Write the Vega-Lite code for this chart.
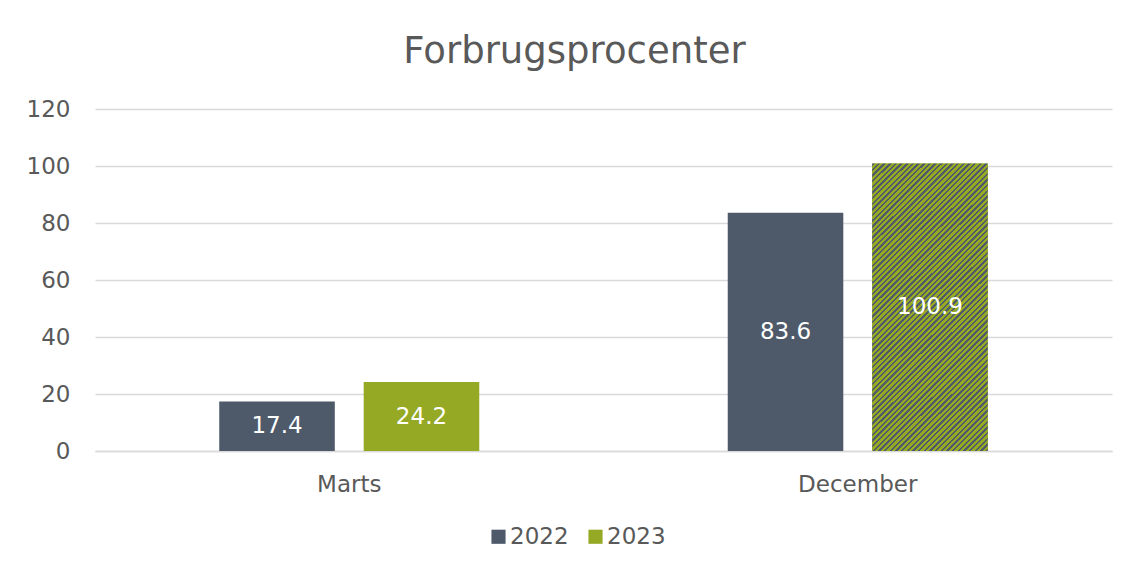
{
  "$schema": "https://vega.github.io/schema/vega-lite/v6.json",
  "autosize": {"type": "none"},
  "padding": {"left": 95, "top": 109, "right": 18, "bottom": 116},
  "width": 1017,
  "height": 342,
  "background": "white",
  "config": {
    "font": "DejaVu Sans",
    "view": {"stroke": null},
    "axis": {"labelColor": "#595959", "labelFont": "DejaVu Sans", "labelFontSize": 23, "ticks": false, "title": null}
  },
  "title": {"text": "Forbrugsprocenter", "fontSize": 37, "fontWeight": "normal", "color": "#595959", "font": "DejaVu Sans", "anchor": "middle", "dx": -29, "offset": 27},
  "data": {
    "values": [
      {"month": "Marts", "year": "2022", "value": 17.4},
      {"month": "Marts", "year": "2023", "value": 24.2},
      {"month": "December", "year": "2022", "value": 83.6},
      {"month": "December", "year": "2023", "value": 100.9}
    ]
  },
  "encoding": {
    "x": {"field": "month", "type": "nominal", "sort": ["Marts", "December"], "scale": {"paddingInner": 0, "paddingOuter": 0},
      "axis": {"labelAngle": 0, "domain": true, "domainColor": "#d9d9d9", "domainWidth": 1.5, "labelPadding": 22, "labelFontSize": 23}},
    "xOffset": {"field": "year", "type": "nominal", "sort": ["2022", "2023"], "scale": {"paddingInner": 0.2, "paddingOuter": 0.86}}
  },
  "layer": [
    {
      "mark": {"type": "bar"},
      "encoding": {
        "y": {"field": "value", "type": "quantitative", "scale": {"domain": [0, 120]},
          "axis": {"values": [0, 20, 40, 60, 80, 100, 120], "domain": false, "gridColor": "#d9d9d9", "gridWidth": 1.5, "labelPadding": 25}},
        "color": {"field": "year", "type": "nominal", "scale": {"domain": ["2022", "2023"], "range": ["#4E5A69", "#95A925"]},
          "legend": {"title": null, "orient": "none", "legendX": 392, "legendY": 416, "direction": "horizontal", "symbolType": "square", "symbolSize": 200, "symbolStrokeWidth": 0, "labelFontSize": 23, "labelColor": "#595959", "labelOffset": 0, "columnPadding": 15, "symbolOpacity": 1}}
      }
    },
    {
      "transform": [{"filter": "datum.month == 'December' && datum.year == '2023'"}],
      "mark": {"type": "bar", "fill": {"gradient": "linear", "x1": 0, "y1": 0, "x2": 0.4828, "y2": 1.2069, "stops": [
        {"offset":0,"color":"#4E5A69"},{"offset":0.006,"color":"#4E5A69"},{"offset":0.006,"color":"#95A925"},{"offset":0.014,"color":"#95A925"},
        {"offset":0.014,"color":"#4E5A69"},{"offset":0.020,"color":"#4E5A69"},{"offset":0.020,"color":"#95A925"},{"offset":0.028,"color":"#95A925"},
        {"offset":0.028,"color":"#4E5A69"},{"offset":0.034,"color":"#4E5A69"},{"offset":0.034,"color":"#95A925"},{"offset":0.042,"color":"#95A925"},
        {"offset":0.042,"color":"#4E5A69"},{"offset":0.048,"color":"#4E5A69"},{"offset":0.048,"color":"#95A925"},{"offset":0.056,"color":"#95A925"},
        {"offset":0.056,"color":"#4E5A69"},{"offset":0.062,"color":"#4E5A69"},{"offset":0.062,"color":"#95A925"},{"offset":0.070,"color":"#95A925"},
        {"offset":0.070,"color":"#4E5A69"},{"offset":0.076,"color":"#4E5A69"},{"offset":0.076,"color":"#95A925"},{"offset":0.084,"color":"#95A925"},
        {"offset":0.084,"color":"#4E5A69"},{"offset":0.090,"color":"#4E5A69"},{"offset":0.090,"color":"#95A925"},{"offset":0.098,"color":"#95A925"},
        {"offset":0.098,"color":"#4E5A69"},{"offset":0.104,"color":"#4E5A69"},{"offset":0.104,"color":"#95A925"},{"offset":0.112,"color":"#95A925"},
        {"offset":0.112,"color":"#4E5A69"},{"offset":0.118,"color":"#4E5A69"},{"offset":0.118,"color":"#95A925"},{"offset":0.126,"color":"#95A925"},
        {"offset":0.126,"color":"#4E5A69"},{"offset":0.132,"color":"#4E5A69"},{"offset":0.132,"color":"#95A925"},{"offset":0.140,"color":"#95A925"},
        {"offset":0.140,"color":"#4E5A69"},{"offset":0.146,"color":"#4E5A69"},{"offset":0.146,"color":"#95A925"},{"offset":0.154,"color":"#95A925"},
        {"offset":0.154,"color":"#4E5A69"},{"offset":0.160,"color":"#4E5A69"},{"offset":0.160,"color":"#95A925"},{"offset":0.168,"color":"#95A925"},
        {"offset":0.168,"color":"#4E5A69"},{"offset":0.174,"color":"#4E5A69"},{"offset":0.174,"color":"#95A925"},{"offset":0.182,"color":"#95A925"},
        {"offset":0.182,"color":"#4E5A69"},{"offset":0.188,"color":"#4E5A69"},{"offset":0.188,"color":"#95A925"},{"offset":0.196,"color":"#95A925"},
        {"offset":0.196,"color":"#4E5A69"},{"offset":0.202,"color":"#4E5A69"},{"offset":0.202,"color":"#95A925"},{"offset":0.210,"color":"#95A925"},
        {"offset":0.210,"color":"#4E5A69"},{"offset":0.216,"color":"#4E5A69"},{"offset":0.216,"color":"#95A925"},{"offset":0.224,"color":"#95A925"},
        {"offset":0.224,"color":"#4E5A69"},{"offset":0.230,"color":"#4E5A69"},{"offset":0.230,"color":"#95A925"},{"offset":0.238,"color":"#95A925"},
        {"offset":0.238,"color":"#4E5A69"},{"offset":0.244,"color":"#4E5A69"},{"offset":0.244,"color":"#95A925"},{"offset":0.252,"color":"#95A925"},
        {"offset":0.252,"color":"#4E5A69"},{"offset":0.258,"color":"#4E5A69"},{"offset":0.258,"color":"#95A925"},{"offset":0.266,"color":"#95A925"},
        {"offset":0.266,"color":"#4E5A69"},{"offset":0.272,"color":"#4E5A69"},{"offset":0.272,"color":"#95A925"},{"offset":0.280,"color":"#95A925"},
        {"offset":0.280,"color":"#4E5A69"},{"offset":0.286,"color":"#4E5A69"},{"offset":0.286,"color":"#95A925"},{"offset":0.294,"color":"#95A925"},
        {"offset":0.294,"color":"#4E5A69"},{"offset":0.300,"color":"#4E5A69"},{"offset":0.300,"color":"#95A925"},{"offset":0.308,"color":"#95A925"},
        {"offset":0.308,"color":"#4E5A69"},{"offset":0.314,"color":"#4E5A69"},{"offset":0.314,"color":"#95A925"},{"offset":0.322,"color":"#95A925"},
        {"offset":0.322,"color":"#4E5A69"},{"offset":0.328,"color":"#4E5A69"},{"offset":0.328,"color":"#95A925"},{"offset":0.336,"color":"#95A925"},
        {"offset":0.336,"color":"#4E5A69"},{"offset":0.342,"color":"#4E5A69"},{"offset":0.342,"color":"#95A925"},{"offset":0.350,"color":"#95A925"},
        {"offset":0.350,"color":"#4E5A69"},{"offset":0.356,"color":"#4E5A69"},{"offset":0.356,"color":"#95A925"},{"offset":0.364,"color":"#95A925"},
        {"offset":0.364,"color":"#4E5A69"},{"offset":0.370,"color":"#4E5A69"},{"offset":0.370,"color":"#95A925"},{"offset":0.378,"color":"#95A925"},
        {"offset":0.378,"color":"#4E5A69"},{"offset":0.384,"color":"#4E5A69"},{"offset":0.384,"color":"#95A925"},{"offset":0.392,"color":"#95A925"},
        {"offset":0.392,"color":"#4E5A69"},{"offset":0.398,"color":"#4E5A69"},{"offset":0.398,"color":"#95A925"},{"offset":0.406,"color":"#95A925"},
        {"offset":0.406,"color":"#4E5A69"},{"offset":0.412,"color":"#4E5A69"},{"offset":0.412,"color":"#95A925"},{"offset":0.420,"color":"#95A925"},
        {"offset":0.420,"color":"#4E5A69"},{"offset":0.426,"color":"#4E5A69"},{"offset":0.426,"color":"#95A925"},{"offset":0.434,"color":"#95A925"},
        {"offset":0.434,"color":"#4E5A69"},{"offset":0.440,"color":"#4E5A69"},{"offset":0.440,"color":"#95A925"},{"offset":0.448,"color":"#95A925"},
        {"offset":0.448,"color":"#4E5A69"},{"offset":0.454,"color":"#4E5A69"},{"offset":0.454,"color":"#95A925"},{"offset":0.462,"color":"#95A925"},
        {"offset":0.462,"color":"#4E5A69"},{"offset":0.468,"color":"#4E5A69"},{"offset":0.468,"color":"#95A925"},{"offset":0.476,"color":"#95A925"},
        {"offset":0.476,"color":"#4E5A69"},{"offset":0.482,"color":"#4E5A69"},{"offset":0.482,"color":"#95A925"},{"offset":0.490,"color":"#95A925"},
        {"offset":0.490,"color":"#4E5A69"},{"offset":0.496,"color":"#4E5A69"},{"offset":0.496,"color":"#95A925"},{"offset":0.504,"color":"#95A925"},
        {"offset":0.504,"color":"#4E5A69"},{"offset":0.510,"color":"#4E5A69"},{"offset":0.510,"color":"#95A925"},{"offset":0.518,"color":"#95A925"},
        {"offset":0.518,"color":"#4E5A69"},{"offset":0.524,"color":"#4E5A69"},{"offset":0.524,"color":"#95A925"},{"offset":0.532,"color":"#95A925"},
        {"offset":0.532,"color":"#4E5A69"},{"offset":0.538,"color":"#4E5A69"},{"offset":0.538,"color":"#95A925"},{"offset":0.546,"color":"#95A925"},
        {"offset":0.546,"color":"#4E5A69"},{"offset":0.552,"color":"#4E5A69"},{"offset":0.552,"color":"#95A925"},{"offset":0.560,"color":"#95A925"},
        {"offset":0.560,"color":"#4E5A69"},{"offset":0.566,"color":"#4E5A69"},{"offset":0.566,"color":"#95A925"},{"offset":0.574,"color":"#95A925"},
        {"offset":0.574,"color":"#4E5A69"},{"offset":0.580,"color":"#4E5A69"},{"offset":0.580,"color":"#95A925"},{"offset":0.588,"color":"#95A925"},
        {"offset":0.588,"color":"#4E5A69"},{"offset":0.594,"color":"#4E5A69"},{"offset":0.594,"color":"#95A925"},{"offset":0.602,"color":"#95A925"},
        {"offset":0.602,"color":"#4E5A69"},{"offset":0.608,"color":"#4E5A69"},{"offset":0.608,"color":"#95A925"},{"offset":0.616,"color":"#95A925"},
        {"offset":0.616,"color":"#4E5A69"},{"offset":0.622,"color":"#4E5A69"},{"offset":0.622,"color":"#95A925"},{"offset":0.630,"color":"#95A925"},
        {"offset":0.630,"color":"#4E5A69"},{"offset":0.636,"color":"#4E5A69"},{"offset":0.636,"color":"#95A925"},{"offset":0.644,"color":"#95A925"},
        {"offset":0.644,"color":"#4E5A69"},{"offset":0.650,"color":"#4E5A69"},{"offset":0.650,"color":"#95A925"},{"offset":0.658,"color":"#95A925"},
        {"offset":0.658,"color":"#4E5A69"},{"offset":0.664,"color":"#4E5A69"},{"offset":0.664,"color":"#95A925"},{"offset":0.672,"color":"#95A925"},
        {"offset":0.672,"color":"#4E5A69"},{"offset":0.678,"color":"#4E5A69"},{"offset":0.678,"color":"#95A925"},{"offset":0.686,"color":"#95A925"},
        {"offset":0.686,"color":"#4E5A69"},{"offset":0.692,"color":"#4E5A69"},{"offset":0.692,"color":"#95A925"},{"offset":0.700,"color":"#95A925"},
        {"offset":0.700,"color":"#4E5A69"},{"offset":0.706,"color":"#4E5A69"},{"offset":0.706,"color":"#95A925"},{"offset":0.714,"color":"#95A925"},
        {"offset":0.714,"color":"#4E5A69"},{"offset":0.720,"color":"#4E5A69"},{"offset":0.720,"color":"#95A925"},{"offset":0.728,"color":"#95A925"},
        {"offset":0.728,"color":"#4E5A69"},{"offset":0.734,"color":"#4E5A69"},{"offset":0.734,"color":"#95A925"},{"offset":0.742,"color":"#95A925"},
        {"offset":0.742,"color":"#4E5A69"},{"offset":0.748,"color":"#4E5A69"},{"offset":0.748,"color":"#95A925"},{"offset":0.756,"color":"#95A925"},
        {"offset":0.756,"color":"#4E5A69"},{"offset":0.762,"color":"#4E5A69"},{"offset":0.762,"color":"#95A925"},{"offset":0.770,"color":"#95A925"},
        {"offset":0.770,"color":"#4E5A69"},{"offset":0.776,"color":"#4E5A69"},{"offset":0.776,"color":"#95A925"},{"offset":0.784,"color":"#95A925"},
        {"offset":0.784,"color":"#4E5A69"},{"offset":0.790,"color":"#4E5A69"},{"offset":0.790,"color":"#95A925"},{"offset":0.798,"color":"#95A925"},
        {"offset":0.798,"color":"#4E5A69"},{"offset":0.804,"color":"#4E5A69"},{"offset":0.804,"color":"#95A925"},{"offset":0.812,"color":"#95A925"},
        {"offset":0.812,"color":"#4E5A69"},{"offset":0.818,"color":"#4E5A69"},{"offset":0.818,"color":"#95A925"},{"offset":0.826,"color":"#95A925"},
        {"offset":0.826,"color":"#4E5A69"},{"offset":0.832,"color":"#4E5A69"},{"offset":0.832,"color":"#95A925"},{"offset":0.840,"color":"#95A925"},
        {"offset":0.840,"color":"#4E5A69"},{"offset":0.846,"color":"#4E5A69"},{"offset":0.846,"color":"#95A925"},{"offset":0.854,"color":"#95A925"},
        {"offset":0.854,"color":"#4E5A69"},{"offset":0.860,"color":"#4E5A69"},{"offset":0.860,"color":"#95A925"},{"offset":0.868,"color":"#95A925"},
        {"offset":0.868,"color":"#4E5A69"},{"offset":0.874,"color":"#4E5A69"},{"offset":0.874,"color":"#95A925"},{"offset":0.882,"color":"#95A925"},
        {"offset":0.882,"color":"#4E5A69"},{"offset":0.888,"color":"#4E5A69"},{"offset":0.888,"color":"#95A925"},{"offset":0.896,"color":"#95A925"},
        {"offset":0.896,"color":"#4E5A69"},{"offset":0.902,"color":"#4E5A69"},{"offset":0.902,"color":"#95A925"},{"offset":0.910,"color":"#95A925"},
        {"offset":0.910,"color":"#4E5A69"},{"offset":0.916,"color":"#4E5A69"},{"offset":0.916,"color":"#95A925"},{"offset":0.924,"color":"#95A925"},
        {"offset":0.924,"color":"#4E5A69"},{"offset":0.930,"color":"#4E5A69"},{"offset":0.930,"color":"#95A925"},{"offset":0.938,"color":"#95A925"},
        {"offset":0.938,"color":"#4E5A69"},{"offset":0.944,"color":"#4E5A69"},{"offset":0.944,"color":"#95A925"},{"offset":0.952,"color":"#95A925"},
        {"offset":0.952,"color":"#4E5A69"},{"offset":0.958,"color":"#4E5A69"},{"offset":0.958,"color":"#95A925"},{"offset":0.966,"color":"#95A925"},
        {"offset":0.966,"color":"#4E5A69"},{"offset":0.972,"color":"#4E5A69"},{"offset":0.972,"color":"#95A925"},{"offset":0.980,"color":"#95A925"},
        {"offset":0.980,"color":"#4E5A69"},{"offset":0.986,"color":"#4E5A69"},{"offset":0.986,"color":"#95A925"},{"offset":0.994,"color":"#95A925"},
        {"offset":0.994,"color":"#4E5A69"},{"offset":1,"color":"#4E5A69"}
      ]}},
      "encoding": {
        "y": {"field": "value", "type": "quantitative", "scale": {"domain": [0, 120]}, "axis": null}
      }
    },
    {
      "mark": {"type": "text", "color": "white", "fontSize": 23, "align": "center", "baseline": "middle", "font": "DejaVu Sans"},
      "encoding": {
        "y": {"field": "value", "type": "quantitative", "scale": {"domain": [0, 240]}, "axis": null},
        "text": {"field": "value", "type": "quantitative", "format": ".1f"}
      }
    }
  ],
  "resolve": {"scale": {"y": "independent"}}
}
